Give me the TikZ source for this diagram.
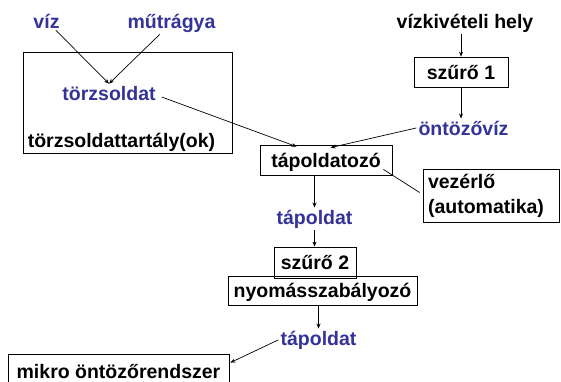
\documentclass[tikz,border=0pt]{standalone}
\usepackage{fontspec}
\setmainfont{Liberation Sans}
\usetikzlibrary{arrows.meta}
\definecolor{lblue}{RGB}{51,51,153}
\begin{document}
\begin{tikzpicture}[x=1pt,y=-1pt,
  every node/.style={font=\fontsize{19.5}{24}\selectfont\bfseries},
  lbl/.style={anchor=base,inner sep=2pt,text=lblue},
  blk/.style={anchor=base,inner sep=2pt},
  box/.style={draw,line width=0.8pt,inner sep=0pt,text height=15pt,text depth=1pt,align=center},
  arr/.style={-{Stealth[length=5pt,width=4pt]},line width=0.7pt},
  ln/.style={line width=0.7pt}]
\useasboundingbox (0,0) rectangle (561,381);
% tank box
\node[draw,line width=0.8pt,minimum width=209pt,minimum height=101pt,inner sep=0pt] (tank) at (127.5,102.5) {};
\node[lbl] (viz) at (46.5,28) {víz};
\node[lbl] (mutr) at (171.5,28) {műtrágya};
\node[lbl] (torzs) at (109,100) {törzsoldat};
\node[blk] (tanklbl) at (121.5,147) {törzsoldattartály(ok)};
\node[blk] (vizk) at (465,28) {vízkivételi hely};
\node[box,minimum width=94pt,minimum height=30pt] (sz1) at (461,72) {szűrő 1};
\node[lbl] (ontoz) at (463.5,135) {öntözővíz};
\node[box,minimum width=132pt,minimum height=30pt] (tapoz) at (326,160) {tápoldatozó};
\node[draw,line width=0.8pt,text width=126pt,inner xsep=5pt,inner ysep=0pt,minimum height=53pt,align=left,font=\fontsize{19.5}{25}\selectfont\bfseries] (vez) at (491,195.5) {vezérlő\\(automatika)};
\node[lbl] (tap1) at (314.5,224) {tápoldat};
\node[box,minimum width=82pt,minimum height=31pt] (sz2) at (315,262.5) {szűrő 2};
\node[box,minimum width=189pt,minimum height=29pt] (nyom) at (322.5,290.5) {nyomásszabályozó};
\node[lbl] (tap2) at (318.5,345) {tápoldat};
\node[box,minimum width=221pt,minimum height=34pt] (mikro) at (118.5,371) {mikro öntözőrendszer};
% connectors
\draw[arr] (viz) -- (torzs.north);
\draw[arr] (mutr) -- (torzs.north);
\draw[arr] (sz1.north |- vizk.south) -- (sz1.north);
\draw[arr] (sz1.south) -- (sz1.south |- ontoz.north);
\draw[arr] ([xshift=4pt,yshift=-4pt]torzs.east) -- ([xshift=37pt,yshift=-2pt]tapoz.north west);
\draw[arr] (ontoz.west) -- ([xshift=71pt,yshift=-3pt]tapoz.north west);
\draw[ln] ([xshift=-9pt,yshift=6pt]tapoz.south east) -- ([xshift=-3pt,yshift=3pt]vez.west);
\draw[arr] (tap1.north |- tapoz.south) -- (tap1.north);
\draw[arr] (tap1.south) -- (tap1.south |- sz2.north);
\draw[arr] (tap2.north |- nyom.south) -- (tap2.north);
\draw[arr] (tap2.west) -- ([xshift=1pt,yshift=-9pt]mikro.north east);
\end{tikzpicture}
\end{document}
